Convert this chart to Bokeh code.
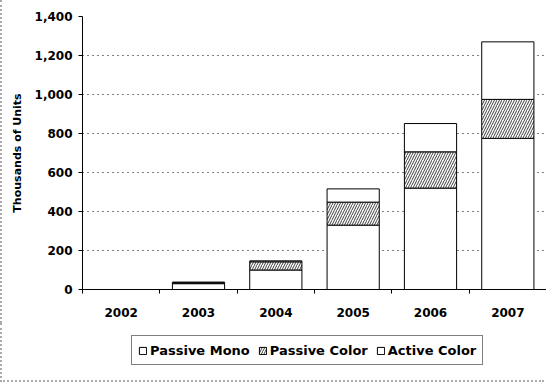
from bokeh.plotting import figure
from bokeh.layouts import column
from bokeh.models import (ColumnDataSource, Range1d, FixedTicker, NumeralTickFormatter,
                          Legend, LegendItem)
from bokeh.embed import file_html
from bokeh.resources import INLINE

# ---- data ----
years = ["2002", "2003", "2004", "2005", "2006", "2007"]
passive_mono = [0, 30, 100, 330, 520, 775]
passive_color = [0, 5, 42, 118, 186, 200]
active_color = [0, 3, 5, 68, 145, 295]
y_ticks = [0, 200, 400, 600, 800, 1000, 1200, 1400]
series_names = ["Passive Mono", "Passive Color", "Active Color"]
hatches = [" ", "/", " "]

FONT = "DejaVu Sans"
BORDER = "2px dotted #aaaaaa"

xs = [i + 0.5 for i in range(len(years))]
src = ColumnDataSource(dict(x=xs, years=years, pm=passive_mono, pc=passive_color, ac=active_color))

p = figure(frame_width=462, frame_height=273, output_backend="svg", toolbar_location=None,
           x_range=Range1d(0, len(years)), y_range=Range1d(0, 1400),
           min_border_left=80, min_border_right=2, min_border_top=16, min_border_bottom=34)
p.outline_line_color = None
p.background_fill_color = "white"
p.border_fill_color = "white"
p.styles = {"border-left": BORDER}

bar_style = dict(fill_color="white", line_color="black", line_width=1,
                 hatch_color="black", hatch_scale=5, hatch_weight=1, hatch_alpha=0.75)
rs = p.vbar_stack(["pm", "pc", "ac"], x="x", width=0.675, source=src,
                  hatch_pattern=hatches, **bar_style)

# x axis
xa = p.xaxis[0]
xa.ticker = FixedTicker(ticks=xs, minor_ticks=list(range(len(years) + 1)))
xa.major_label_overrides = {x: y for x, y in zip(xs, years)}
xa.major_tick_out = 0
xa.major_tick_in = 0
xa.minor_tick_out = 4
xa.minor_tick_in = 0
xa.minor_tick_line_color = "black"
xa.axis_line_color = "black"
xa.major_label_standoff = 14
xa.major_label_text_font = FONT
xa.major_label_text_font_style = "bold"
xa.major_label_text_font_size = "12px"
xa.major_label_text_color = "black"

# y axis
ya = p.yaxis[0]
ya.ticker = FixedTicker(ticks=y_ticks, minor_ticks=[])
ya.formatter = NumeralTickFormatter(format="0,0")
ya.major_tick_out = 4
ya.major_tick_in = 0
ya.axis_line_color = "black"
ya.major_tick_line_color = "black"
ya.major_label_standoff = 6
ya.major_label_text_font = FONT
ya.major_label_text_font_style = "bold"
ya.major_label_text_font_size = "12px"
ya.major_label_text_color = "black"
ya.axis_label = "Thousands of Units"
ya.axis_label_text_font = FONT
ya.axis_label_text_font_style = "bold"
ya.axis_label_text_font_size = "11px"
ya.axis_label_text_color = "black"
ya.axis_label_standoff = 8

p.xgrid.grid_line_color = None
p.ygrid.grid_line_color = "black"
p.ygrid.grid_line_dash = "1 4"
p.ygrid.grid_line_width = 1

# ---- legend strip below (same series; its view window lies above the data) ----
lf = figure(frame_width=542, frame_height=57, output_backend="svg", toolbar_location=None,
            x_range=Range1d(0, len(years)), y_range=Range1d(5000, 6000),
            min_border_left=0, min_border_right=0, min_border_top=0, min_border_bottom=0)
lf.axis.visible = False
lf.grid.visible = False
lf.outline_line_color = None
lf.background_fill_color = "white"
lf.border_fill_color = "white"
lf.styles = {"border-left": BORDER, "border-bottom": BORDER}

lrs = lf.vbar_stack(["pm", "pc", "ac"], x="x", width=0.675, source=src,
                    hatch_pattern=hatches, **bar_style)
items = [LegendItem(label=n, renderers=[r]) for n, r in zip(series_names, lrs)]

legend = Legend(items=items, orientation="horizontal", location=(129, 17))
legend.border_line_color = "black"
legend.border_line_width = 1
legend.background_fill_color = "white"
legend.label_text_font = FONT
legend.label_text_font_style = "bold"
legend.label_text_font_size = "13px"
legend.label_text_color = "black"
legend.glyph_width = 9
legend.glyph_height = 9
legend.label_standoff = 3
legend.spacing = 8
legend.padding = 6
legend.label_height = 16
legend.margin = 0
lf.add_layout(legend, "center")

layout = column(p, lf, spacing=0)
open("out.html", "w").write(file_html(layout, INLINE))
